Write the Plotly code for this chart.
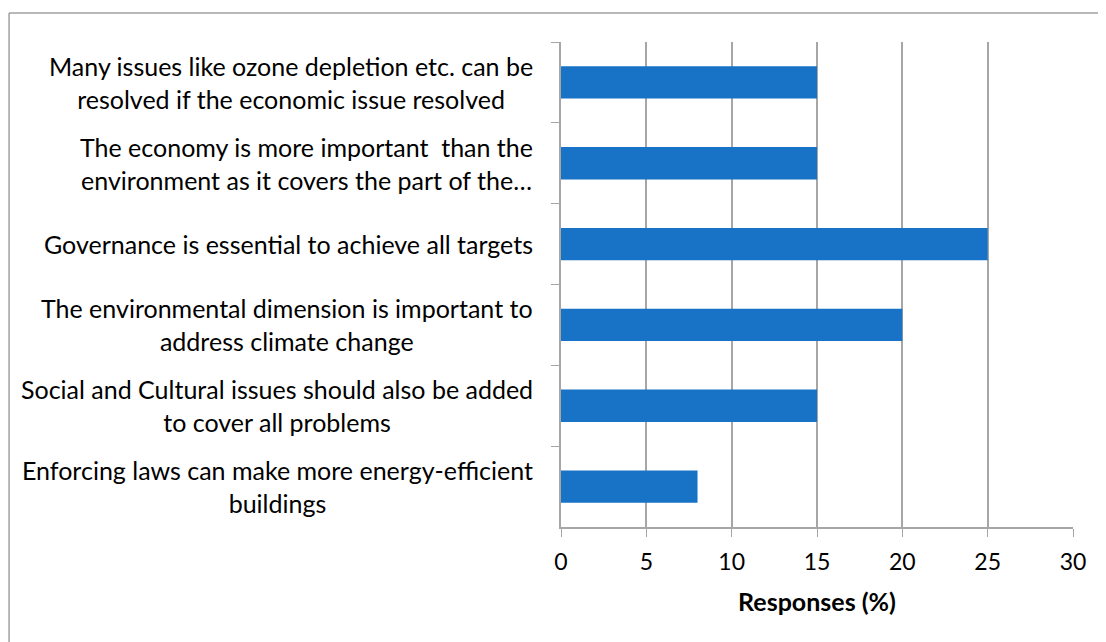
# Horizontal bar chart of survey responses
import plotly.graph_objects as go

# Data (top to bottom as shown)
LABELS = [
    "Many issues like ozone depletion etc. can be<br>resolved if the economic issue resolved",
    "The economy is more important  than the<br>environment as it covers the part of the…",
    "Governance is essential to achieve all targets",
    "The environmental dimension is important to<br>address climate change",
    "Social and Cultural issues should also be added<br>to cover all problems",
    "Enforcing laws can make more energy-efficient<br>buildings",
]
RESPONSES = [15, 15, 25, 20, 15, 8]
X_TICKS = [0, 5, 10, 15, 20, 25, 30]

BAR_COLOR = "#1872C6"
GRID_COLOR = "#A6A6A6"
FONT = "Lato, sans-serif"

cats = [str(i) for i in range(len(LABELS))]     # plain category keys, labels drawn as annotations

fig = go.Figure(
    go.Bar(
        x=RESPONSES,
        y=cats,
        orientation="h",
        marker=dict(color=BAR_COLOR, line=dict(width=0)),
        width=0.4,
    )
)

# centred multi-line category labels (like the Excel original)
for c, lab in zip(cats, LABELS):
    fig.add_annotation(
        x=-0.051, xref="paper", y=c, yref="y",
        text=lab, showarrow=False,
        xanchor="right", yanchor="middle", align="center",
        font=dict(size=25, color="#000000", family=FONT),
    )

# outer chart border (only top and left visible in the crop)
fig.add_shape(type="line", xref="paper", yref="paper",
              x0=-1.078, x1=1.2, y0=1.0598, y1=1.0598,
              line=dict(color="#A0A0A0", width=1.5))
fig.add_shape(type="line", xref="paper", yref="paper",
              x0=-1.078, x1=-1.078, y0=-0.5, y1=1.0598,
              line=dict(color="#A0A0A0", width=1.5))

# page body adds an 8px offset, so margins are shifted by 8px
fig.update_layout(
    width=1106,
    height=642,
    margin=dict(l=553, r=41, t=34, b=123),
    paper_bgcolor="white",
    plot_bgcolor="white",
    showlegend=False,
    bargap=0.6,
    font=dict(family=FONT, color="#000000"),
)

fig.update_xaxes(
    range=[0, 30],
    tickvals=X_TICKS,
    ticks="outside",
    ticklen=8,
    tickcolor=GRID_COLOR,
    tickfont=dict(size=23, family=FONT),
    ticklabelstandoff=6,
    showgrid=True,
    gridcolor=GRID_COLOR,
    gridwidth=1.5,
    showline=True,
    linecolor=GRID_COLOR,
    linewidth=1.5,
    zeroline=False,
    title=dict(text="<b>Responses (%)</b>", font=dict(size=25, family=FONT), standoff=19),
)
fig.update_yaxes(
    autorange="reversed",
    showticklabels=False,
    ticks="outside",
    tickson="boundaries",
    ticklen=8,
    tickcolor=GRID_COLOR,
    showgrid=False,
    showline=True,
    linecolor=GRID_COLOR,
    linewidth=1.5,
    zeroline=False,
)

fig.write_html("out.html")
